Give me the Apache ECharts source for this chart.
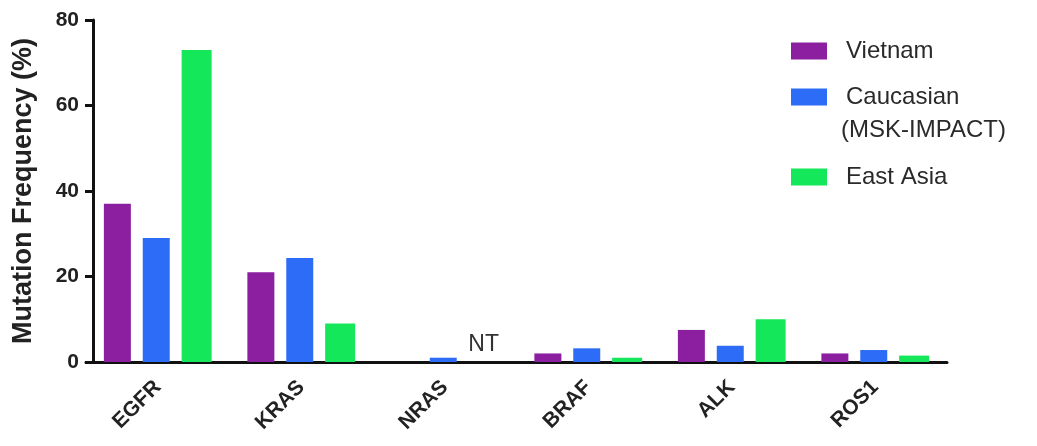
<!DOCTYPE html>
<html>
<head>
<meta charset="utf-8">
<script src="https://cdn.jsdelivr.net/npm/echarts@6/dist/echarts.min.js"></script>
<style>
  html, body { margin: 0; padding: 0; background: #fff; }
  #chart { width: 1037px; height: 446px; }
</style>
</head>
<body>
<div id="chart"></div>
<script>
const genes = ['EGFR', 'KRAS', 'NRAS', 'BRAF', 'ALK', 'ROS1'];
const vietnam = [37, 21, 0, 2, 7.5, 2];
const caucasian = [29, 24.3, 1, 3.2, 3.8, 2.8];
const eastAsia = [73, 9, 0, 1, 10, 1.5];
const notTested = [false, false, true, false, false, false]; // East Asia NRAS = NT
const yTicks = [0, 20, 40, 60, 80];

const font = 'Liberation Sans, Arial, sans-serif';

const chart = echarts.init(document.getElementById('chart'));

const legendBase = {
  orient: 'vertical',
  left: 786,
  icon: 'rect',
  itemWidth: 36,
  itemHeight: 17,
  textStyle: { fontFamily: font, fontSize: 24, color: '#2a2a2a', padding: [0, 0, 0, 14] },
};

chart.setOption({
  backgroundColor: '#fff',
  animation: false,
  grid: { left: 86, right: 90, top: 20, bottom: 84 },
  legend: [
    { ...legendBase, top: 34, data: ['Vietnam'] },
    { ...legendBase, top: 80, data: ['Caucasian'] },
    { ...legendBase, top: 160, data: ['East Asia'] },
  ],
  graphic: [{
    type: 'text',
    left: 841,
    top: 118,
    style: { text: '(MSK-IMPACT)', fontFamily: font, fontSize: 24, fill: '#2a2a2a' },
  }],
  xAxis: {
    type: 'category',
    data: genes,
    axisLine: { lineStyle: { color: '#111', width: 3 } },
    axisTick: { alignWithLabel: true, length: 8, lineStyle: { color: '#111', width: 3 } },
    axisLabel: {
      rotate: 45,
      margin: 22,
      fontFamily: font,
      fontSize: 21,
      fontWeight: 'bold',
      color: '#222',
    },
  },
  yAxis: {
    type: 'value',
    min: 0,
    max: 80,
    interval: 20,
    offset: -7,
    name: 'Mutation Frequency (%)',
    nameLocation: 'middle',
    nameRotate: 90,
    nameGap: 56,
    nameTextStyle: { fontFamily: font, fontSize: 27, fontWeight: 'bold', color: '#222' },
    axisLine: { show: true, lineStyle: { color: '#111', width: 3 } },
    axisTick: { show: true, length: 8, lineStyle: { color: '#111', width: 3 } },
    splitLine: { show: false },
    axisLabel: {
      margin: 14,
      fontFamily: font,
      fontSize: 21,
      fontWeight: 'bold',
      color: '#222',
      formatter: v => (yTicks.includes(v) ? String(v) : ''),
    },
  },
  series: [
    {
      name: 'Vietnam',
      type: 'bar',
      data: vietnam,
      barWidth: 27,
      barGap: '44%',
      itemStyle: { color: '#8b1fa0' },
    },
    {
      name: 'Caucasian',
      type: 'bar',
      data: caucasian,
      barWidth: 27,
      barGap: '44%',
      itemStyle: { color: '#2d6cf6' },
    },
    {
      name: 'East Asia',
      type: 'bar',
      data: eastAsia.map((v, i) => notTested[i]
        ? { value: v, label: { show: true, position: 'top', distance: 6, formatter: 'NT',
            fontFamily: font, fontSize: 23, color: '#333' } }
        : v),
      barWidth: 30,
      barGap: '44%',
      itemStyle: { color: '#14e85a' },
    },
  ],
});
</script>
</body>
</html>
